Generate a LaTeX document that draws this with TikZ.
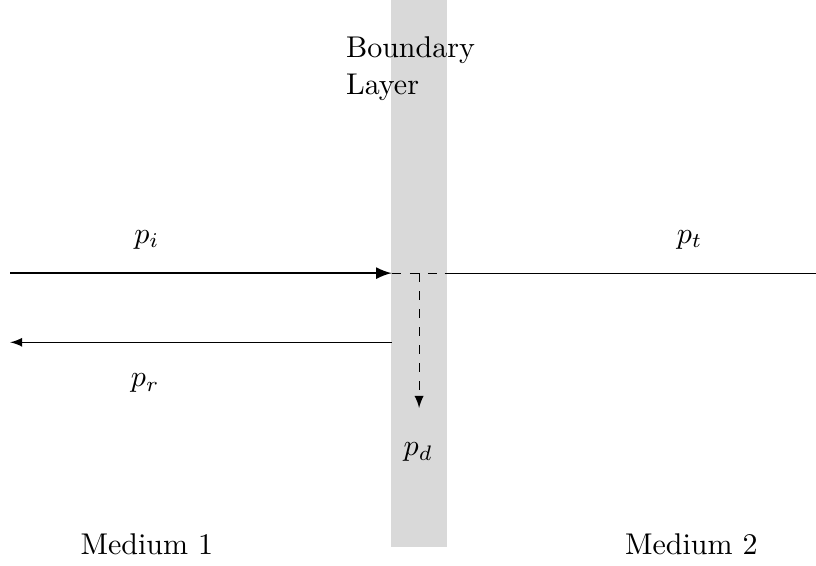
\documentclass[tikz,border=0pt]{standalone}
\usepackage{tikz}
\usetikzlibrary{arrows,positioning}
\definecolor{layer}{gray}{0.85}
\definecolor{ink}{HTML}{000000}
\tikzset{
  every node/.style={text=ink},
  layerbar/.style={fill=layer,draw=none},
  incident/.style={draw=ink,line width=.8pt,-latex},
  wave/.style={draw=ink,line width=.4pt,-latex},
  passthru/.style={draw=ink,line width=.4pt},
  lost/.style={draw=ink,line width=.4pt,dashed},
  medium/.style={anchor=base}
}

\begin{document}
\begin{tikzpicture}[x=1cm,y=1cm]
  \useasboundingbox (0,0) rectangle (9.56,6.62);
  % Boundary layer between the two media.
  \draw[layerbar] (4.58,.21) rectangle (5.24,6.62);
  \node[anchor=north west,align=left] (blabel) at (3.93,6.31) {Boundary\\[.3pt]Layer};

  % Named ends of the waves.
  \coordinate (isrc) at (.12,3.42);
  \coordinate (ihit) at (4.59,3.42);
  \coordinate (lout) at (5.21,3.42);
  \coordinate (tend) at (9.56,3.42);
  \coordinate (dtop) at (4.91,3.42);
  \coordinate (dend) at (4.91,1.84);
  \coordinate (rsrc) at (4.59,2.61);
  \coordinate (rend) at (.12,2.61);

  % Incident, transmitted, reflected and dissipated pressure.
  \draw[incident] (isrc) -- (ihit);
  \draw[lost] (ihit) -- (lout);
  \draw[passthru] (lout) -- (tend);
  \draw[lost,-latex] (dtop) -- (dend);
  \draw[wave] (rsrc) -- (rend);

  \node (pi) at (1.72,3.81) {$p_i$};
  \node (pt) at (8.08,3.81) {$p_t$};
  \node (pr) at (1.70,2.13) {$p_r$};
  \node (pd) at (4.90,1.32) {$p_d$};

  \node[medium] (med1) at (1.72,.12) {Medium 1};
  \node[medium] (med2) at (8.10,.12) {Medium 2};
\end{tikzpicture}
\end{document}
